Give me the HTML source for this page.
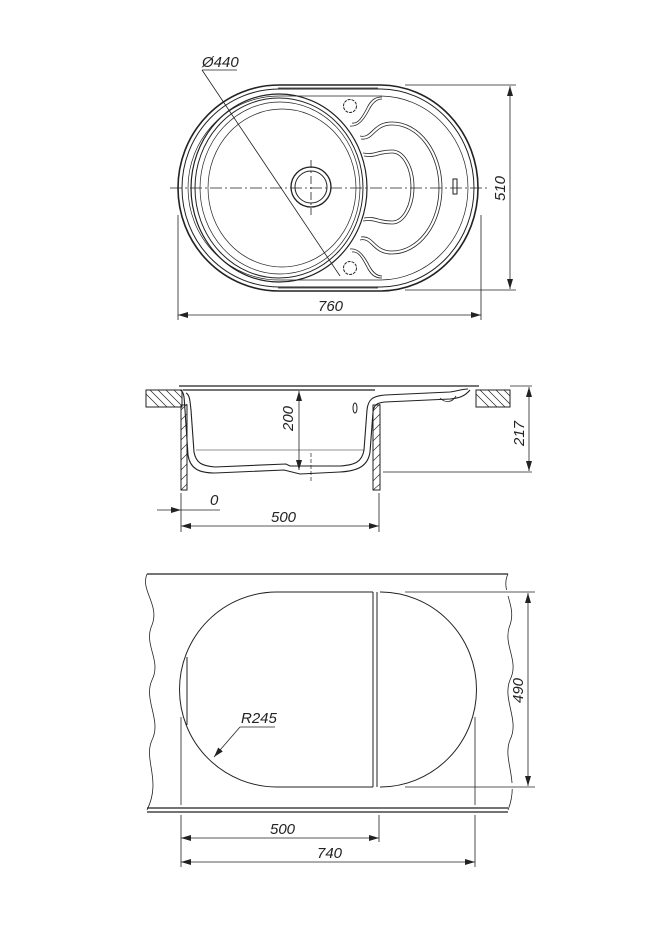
<!DOCTYPE html>
<html><head><meta charset="utf-8"><style>
html,body{margin:0;padding:0;background:#fff}
svg{display:block}
text{font-family:"Liberation Sans",sans-serif;font-style:italic;font-size:15px;fill:#222}
</style></head><body>
<svg width="669" height="946" viewBox="0 0 669 946" xmlns="http://www.w3.org/2000/svg">
<defs>
<marker id="a" viewBox="0 0 10 6" refX="10" refY="3" markerWidth="10" markerHeight="6" orient="auto-start-reverse" markerUnits="userSpaceOnUse"><path d="M0,0 L10,3 L0,6 z" fill="#222"/></marker>
</defs>
<g fill="none" stroke="#222" stroke-width="1">
<!-- TOP VIEW -->
<path d="M380,85 A98,103 0 0 1 380,291 H279 A101,103 0 0 1 279,85 Z" stroke-width="1.6"/>
<path d="M380,89 A94,99 0 0 1 380,287 H279 A97,99 0 0 1 279,89 Z"/>
<path d="M380,96 A88,92 0 0 1 380,280 H279 A91,92 0 0 1 279,96 Z" stroke-width="0.7"/>
<path d="M278,88 H378 M278,288 H378" stroke-width="0.8"/>
<ellipse cx="279" cy="188" rx="88" ry="94" stroke-width="1.2"/>
<ellipse cx="279" cy="188" rx="84" ry="90"/>
<ellipse cx="280" cy="188" rx="80" ry="86" stroke-width="0.7"/>
<ellipse cx="282" cy="188" rx="74" ry="79" stroke-width="0.7"/>
<circle cx="311" cy="187" r="20" stroke-width="1.3"/>
<circle cx="311" cy="187" r="16"/>
<circle cx="350" cy="106" r="6.5" stroke-dasharray="3,1"/>
<circle cx="350" cy="268" r="6.5" stroke-dasharray="3,1"/>
<path d="M352,123 C358,124 362,118 368,106 C372,99 376,97 382,97 M350,126 C358,127 364,120 370,108 C374,101 378,99 382,99" stroke-width="0.8"/>
<path d="M352,252 C358,251 362,257 368,269 C372,276 376,278 382,278 M350,249 C358,248 364,255 370,267 C374,274 378,276 382,276" stroke-width="0.8"/>
<path d="M360,136 C372,139 372,122 392,122 A 50,66 0 0 1 392,254 C372,254 372,237 360,240" stroke-width="0.8"/>
<path d="M361,139 C374,141 374,125 392,125 A 47,63 0 0 1 392,251 C374,251 374,235 361,237" stroke-width="0.8"/>
<path d="M363,153 C377,155 376,150 392,150 A 22,37 0 0 1 392,224 C376,224 377,219 363,221" stroke-width="0.8"/>
<path d="M364,156 C378,158 377,153 392,153 A 19,34 0 0 1 392,221 C377,221 378,216 364,218" stroke-width="0.8"/>
<rect x="453" y="179" width="4" height="15"/>
<path d="M170,188 H490" stroke-dasharray="12,3,2,3" stroke-width="0.8"/>
<path d="M311,160 V215" stroke-dasharray="8,3,2,3" stroke-width="0.8"/>
<path d="M202,70 H237 M202,70 L340,276" stroke-width="0.8"/>
<path d="M405,85 H516 M405,290 H516" stroke-width="0.8"/>
<path d="M510,86 V289" marker-start="url(#a)" marker-end="url(#a)" stroke-width="0.8"/>
<path d="M178,215 V320 M481,215 V320" stroke-width="0.8"/>
<path d="M178,315 H481" marker-start="url(#a)" marker-end="url(#a)" stroke-width="0.8"/>
<!-- SIDE VIEW -->
<rect x="146" y="390" width="36" height="17"/>
<path d="M150,390 L167,407 M158,390 L175,407 M166,390 L182,406 M174,390 L182,398 M146,394 L159,407" stroke-width="0.7"/>
<rect x="476" y="390" width="34" height="17"/>
<path d="M480,390 L497,407 M488,390 L505,407 M496,390 L510,404 M504,390 L510,396 M476,394 L489,407" stroke-width="0.7"/>
<path d="M179,386 H479 M183,390 H375" stroke-width="1.2"/>
<rect x="181" y="405" width="6" height="85"/>
<path d="M181,410 L187,404 M181,420 L187,414 M181,430 L187,424 M181,440 L187,434 M181,450 L187,444 M181,460 L187,454 M181,470 L187,464 M181,480 L187,474 M181,490 L187,484" stroke-width="0.6"/>
<rect x="373" y="405" width="7" height="85"/>
<path d="M373,411 L380,404 M373,421 L380,414 M373,431 L380,424 M373,441 L380,434 M373,451 L380,444 M373,461 L380,454 M373,471 L380,464 M373,481 L380,474 M373,490 L380,484" stroke-width="0.6"/>
<path d="M186,393 C190,395 190,402 191,410 L194,452 C196,463 202,466 215,467 L286,464 L290,466 L340,466 C355,465 362,462 364,450 L367,410 C368,400 372,396 385,395 L450,392 C458,391 462,389 468,389" stroke-width="1.1"/>
<path d="M180,390 C185,392 184,400 185,410 L188,455 C190,468 198,473 215,473 L284,470 L300,474 L340,472 C358,471 368,466 370,452 L373,412 C374,405 376,403 385,402 L450,399 C460,398 465,396 470,390" stroke-width="1.1"/>
<path d="M196,450 H364" stroke-width="0.6"/>
<ellipse cx="355" cy="408" rx="2" ry="5"/>
<path d="M440,398 C445,403 452,403 456,396" stroke-width="0.8"/>
<path d="M311,453 V482" stroke-dasharray="4,2" stroke-width="0.7"/>
<path d="M299,391 V470" marker-start="url(#a)" marker-end="url(#a)" stroke-width="0.8"/>
<path d="M383,472 H532 M510,386 H532" stroke-width="0.8"/>
<path d="M529,387 V471" marker-start="url(#a)" marker-end="url(#a)" stroke-width="0.8"/>
<path d="M181,493 V532 M379,493 V532" stroke-width="0.8"/>
<path d="M157,510 H181" marker-end="url(#a)" stroke-width="0.8"/>
<path d="M181,510 H220" stroke-width="0.8"/>
<path d="M181,526 H379" marker-start="url(#a)" marker-end="url(#a)" stroke-width="0.8"/>
<!-- BOTTOM VIEW -->
<path d="M147,574 H508 M147,808 H508 M147,812 H508" stroke-width="1.2"/>
<path d="M147,574 C140,590 160,605 152,625 C143,645 162,660 152,680 C143,700 162,720 152,740 C143,760 162,780 147,810" stroke-width="0.8"/>
<path d="M508,574 C500,590 517,605 510,625 C502,645 520,660 510,680 C502,700 520,720 510,740 C502,760 520,780 508,810" stroke-width="0.8"/>
<rect x="495" y="590" width="20" height="6" fill="#fff" stroke="none"/>
<rect x="495" y="783" width="20" height="6" fill="#fff" stroke="none"/>
<path d="M277,592 A 97,97 0 0 0 277,787 M277,592 H373 M277,787 H373"/>
<path d="M380,592 A 96,97 0 0 1 380,787"/>
<path d="M373,592 V787 M377,592 V787"/>
<path d="M187,657 V725" stroke-width="1"/>
<path d="M405,592 H535 M405,787 H535" stroke-width="0.8"/>
<path d="M528,593 V786" marker-start="url(#a)" marker-end="url(#a)" stroke-width="0.8"/>
<path d="M240,727 H275" stroke-width="0.8"/>
<path d="M240,727 L214,757" marker-end="url(#a)" stroke-width="0.8"/>
<path d="M181,717 V805 M475,717 V805 M181,815 V867 M379,815 V842 M475,815 V867" stroke-width="0.8"/>
<path d="M181,838 H379" marker-start="url(#a)" marker-end="url(#a)" stroke-width="0.8"/>
<path d="M181,862 H475" marker-start="url(#a)" marker-end="url(#a)" stroke-width="0.8"/>
</g>
<text x="202" y="67">Ø440</text>
<text x="318" y="311">760</text>
<text transform="translate(505,201) rotate(-90)">510</text>
<text transform="translate(293,431) rotate(-90)">200</text>
<text transform="translate(524,446) rotate(-90)">217</text>
<text x="210" y="505">0</text>
<text x="271" y="522">500</text>
<text x="241" y="723">R245</text>
<text transform="translate(523,703) rotate(-90)">490</text>
<text x="270" y="834">500</text>
<text x="317" y="858">740</text>
</svg>
</body></html>
